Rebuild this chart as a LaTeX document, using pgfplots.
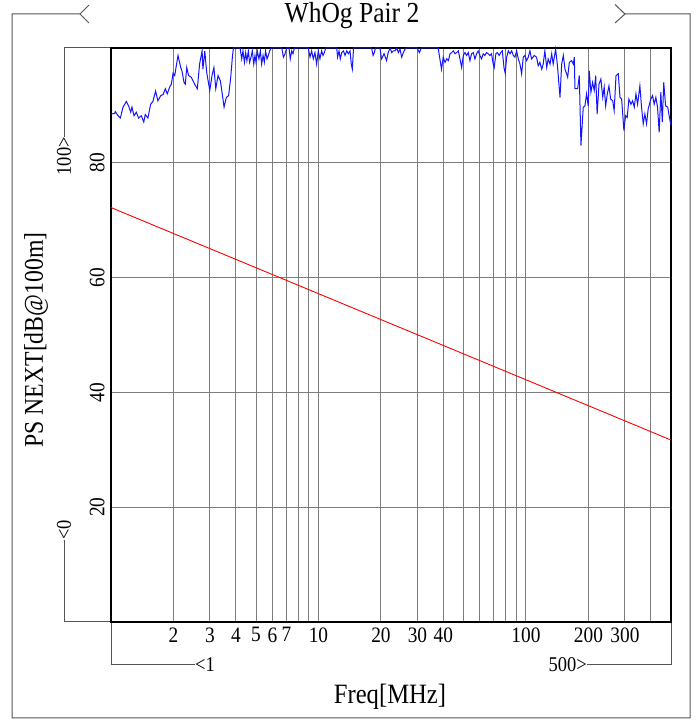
\documentclass[border=0pt]{standalone}
\usepackage{fontspec}
\setmainfont{Liberation Serif}
\newfontfamily\cond{Liberation Serif}[FakeStretch=0.88]
\usepackage{pgfplots}
\pgfplotsset{compat=1.18}
\definecolor{frm}{RGB}{85,85,85}
\definecolor{grd}{RGB}{125,125,125}
\definecolor{bl}{RGB}{20,20,255}
\definecolor{rd}{RGB}{255,0,0}
\begin{document}
\begin{tikzpicture}[x=1pt,y=1pt]
\path[use as bounding box] (0,0) rectangle (700,720);
% outer frame with title brackets
\draw[frm, line width=1pt] (89,715)--(80,706)--(12,706)--(12,2)--(690,2)--(690,706)--(625,706);
\draw[frm, line width=1pt] (80,706)--(89,697);
\draw[frm, line width=1pt] (615,715.5)--(625,706)--(615,697);
\node[anchor=base, inner sep=0pt, font=\cond\fontsize{29}{29}\selectfont] at (352,697) {WhOg Pair 2};
% y range bracket
\draw[frm, line width=1pt] (111,672)--(64,672)--(64,583);
\node[rotate=90, anchor=east, inner sep=0pt, font=\cond\fontsize{21}{21}\selectfont] at (64,583) {100>};
\draw[frm, line width=1pt] (111,98)--(64,98)--(64,180);
\node[rotate=90, anchor=west, inner sep=0pt, font=\cond\fontsize{21}{21}\selectfont] at (64,180) {<0};
% x range bracket
\draw[frm, line width=1pt] (111,98)--(111,55)--(195,55);
\node[anchor=west, inner sep=0pt, font=\cond\fontsize{21}{21}\selectfont] at (195,55) {<1};
\draw[frm, line width=1pt] (671,98)--(671,55)--(587,55);
\node[anchor=east, inner sep=0pt, font=\cond\fontsize{21}{21}\selectfont] at (587,55) {500>};
% axis labels
\node[rotate=90, inner sep=0pt, font=\cond\fontsize{27}{27}\selectfont] at (36,380) {PS NEXT[dB@100m]};
\node[inner sep=0pt, font=\cond\fontsize{28}{28}\selectfont] at (390,23) {Freq[MHz]};
\begin{axis}[
  at={(111pt,98pt)}, anchor=south west,
  width=560pt, height=574pt, scale only axis,
  xmin=0, xmax=2.69897, ymin=0, ymax=100,
  axis line style={line width=1.6pt, black},
  grid=major, major grid style={grd, line width=1pt},
  major tick length=0pt,
  xtick={0.30103,0.47712,0.60206,0.69897,0.77815,0.84510,0.90309,0.95424,1,1.30103,1.47712,1.60206,1.69897,1.77815,1.84510,1.90309,1.95424,2,2.30103,2.47712,2.60206},
  xticklabels={2,3,4,5,6,7,{},{},10,20,30,40,{},{},{},{},{},100,200,300,{}},
  ytick={20,40,60,80}, yticklabels={20,40,60,80},
  tick label style={font=\cond\fontsize{22}{22}\selectfont},
  yticklabel style={rotate=90, anchor=south},
  xticklabel shift=2pt, yticklabel shift=3pt,
  clip=false,
]
\addplot[rd, line width=0.9pt] coordinates {(0,72.2) (1,57.2) (2,42.2) (2.69897,31.7)};
\addplot[bl, line width=1pt] coordinates {
(0.000,88.5) (0.018,88.6) (0.021,88.9) (0.034,88.2) (0.045,87.8) (0.058,89.7) (0.074,90.7) (0.085,89.9) (0.095,88.8) (0.101,89.7)
(0.111,88.2) (0.122,88.8) (0.133,87.8) (0.146,88.2) (0.158,87.1) (0.165,88.4) (0.178,87.8) (0.191,90.2) (0.202,90.7) (0.215,92.5)
(0.226,90.8) (0.240,91.7) (0.251,91.9) (0.262,92.9) (0.271,92.0) (0.283,93.2) (0.291,93.7) (0.299,95.6) (0.307,95.2) (0.323,98.7)
(0.336,96.6) (0.342,96.0) (0.352,94.0) (0.358,93.7) (0.365,96.6) (0.374,95.2) (0.387,94.9) (0.403,93.7) (0.416,92.9) (0.427,97.2)
(0.439,99.5) (0.443,96.3) (0.452,99.5) (0.461,95.8) (0.476,92.6) (0.487,95.2) (0.496,96.6) (0.505,92.9) (0.516,95.2) (0.527,94.3)
(0.535,92.3) (0.545,89.7) (0.556,91.4) (0.567,91.7) (0.577,94.9) (0.585,98.4) (0.590,100) (0.600,100)
(0.622,100) (0.630,98.1) (0.636,99.5) (0.643,97.5) (0.649,99.2) (0.655,97.8) (0.662,99.5) (0.668,97.5) (0.675,98.4) (0.681,99.5)
(0.688,97.2) (0.694,98.7) (0.699,97.5) (0.705,99.5) (0.713,98.1) (0.720,99.5) (0.726,97.2) (0.733,98.7) (0.739,97.5) (0.745,99.5)
(0.752,98.1) (0.758,98.7) (0.765,99.5) (0.771,100) (0.823,100) (0.831,98.4) (0.839,99.0) (0.847,100) (0.858,100) (0.864,98.1)
(0.871,99.5) (0.877,99.0) (0.884,100) (0.951,100) (0.959,98.4) (0.967,99.5) (0.975,98.1) (0.983,99.2) (0.991,97.2) (0.999,99.5)
(1.007,98.1) (1.015,99.5) (1.022,98.7) (1.028,99.2) (1.035,100) (1.088,100) (1.092,98.4) (1.099,99.5) (1.105,98.1) (1.112,99.2)
(1.120,99.5) (1.128,98.7) (1.136,99.5) (1.144,99.0) (1.152,99.5) (1.158,97.2) (1.163,96.3) (1.169,100) (1.256,100) (1.263,98.7)
(1.269,99.2) (1.275,100) (1.296,100)
(1.304,98.1) (1.316,99.0) (1.328,97.8) (1.336,99.2) (1.345,100) (1.353,99.2) (1.361,99.5) (1.369,99.5) (1.377,100) (1.385,99.2)
(1.393,99.8) (1.401,98.4) (1.409,99.2) (1.417,99.8) (1.425,100) (1.476,100) (1.486,99.2) (1.496,100) (1.577,100) (1.585,98.1)
(1.593,96.3) (1.601,98.4) (1.610,97.5) (1.618,98.1) (1.626,97.8) (1.634,99.0) (1.642,99.2) (1.650,99.5) (1.658,99.0) (1.666,99.2)
(1.674,99.5) (1.682,98.1) (1.690,96.6) (1.698,98.7) (1.706,99.2) (1.714,98.7) (1.722,99.2) (1.730,97.8) (1.738,99.0) (1.746,99.2)
(1.754,98.1) (1.762,99.0) (1.770,99.5) (1.778,98.7) (1.786,98.1) (1.794,99.0) (1.802,98.7) (1.810,99.2) (1.818,99.0) (1.826,98.7)
(1.834,99.0) (1.842,97.2) (1.847,96.6) (1.855,99.0) (1.862,99.2) (1.871,98.7) (1.878,99.2) (1.886,99.5) (1.894,96.6) (1.900,95.6)
(1.907,98.4) (1.915,99.5) (1.923,99.0) (1.931,99.5) (1.939,98.7) (1.947,98.4) (1.955,99.5) (1.963,98.1) (1.971,97.2) (1.979,95.5)
(1.987,98.4)
(1.995,98.7) (2.003,97.8) (2.011,98.4) (2.019,99.5) (2.027,98.1) (2.040,98.7) (2.051,98.4) (2.059,96.9) (2.067,97.5) (2.076,96.3)
(2.083,97.2) (2.091,99.5) (2.100,96.6) (2.107,98.1) (2.116,97.2) (2.124,99.0) (2.131,97.2) (2.143,99.8) (2.151,97.2) (2.164,91.4)
(2.172,97.2) (2.180,98.7) (2.188,96.3) (2.196,95.5) (2.201,94.9) (2.209,97.5) (2.220,97.8) (2.228,97.2) (2.233,98.4) (2.236,92.9)
(2.249,92.9) (2.257,95.2) (2.265,83.0) (2.276,89.7) (2.284,89.9) (2.292,92.0) (2.300,89.9) (2.305,96.0) (2.313,92.3) (2.321,94.0)
(2.329,92.6) (2.336,95.2) (2.343,88.5) (2.352,93.7) (2.361,94.6) (2.370,91.4) (2.377,93.2) (2.384,89.9) (2.392,92.0) (2.400,93.4)
(2.408,91.1) (2.418,90.8) (2.425,89.1) (2.434,95.2) (2.445,95.5) (2.453,91.4) (2.461,91.1) (2.472,85.6) (2.480,88.2) (2.488,87.9)
(2.496,91.1) (2.506,90.2) (2.514,90.8) (2.522,89.7) (2.530,92.0) (2.538,90.2) (2.549,93.4) (2.557,89.7) (2.565,86.8) (2.573,88.5)
(2.581,86.8) (2.589,89.4) (2.602,91.1) (2.610,91.7) (2.618,90.2) (2.626,91.4) (2.634,89.7) (2.642,85.3) (2.650,92.3) (2.657,87.1)
(2.664,94.0) (2.673,89.9) (2.683,89.7) (2.690,88.2) (2.69897,86.5)
};
\end{axis}
\end{tikzpicture}
\end{document}
